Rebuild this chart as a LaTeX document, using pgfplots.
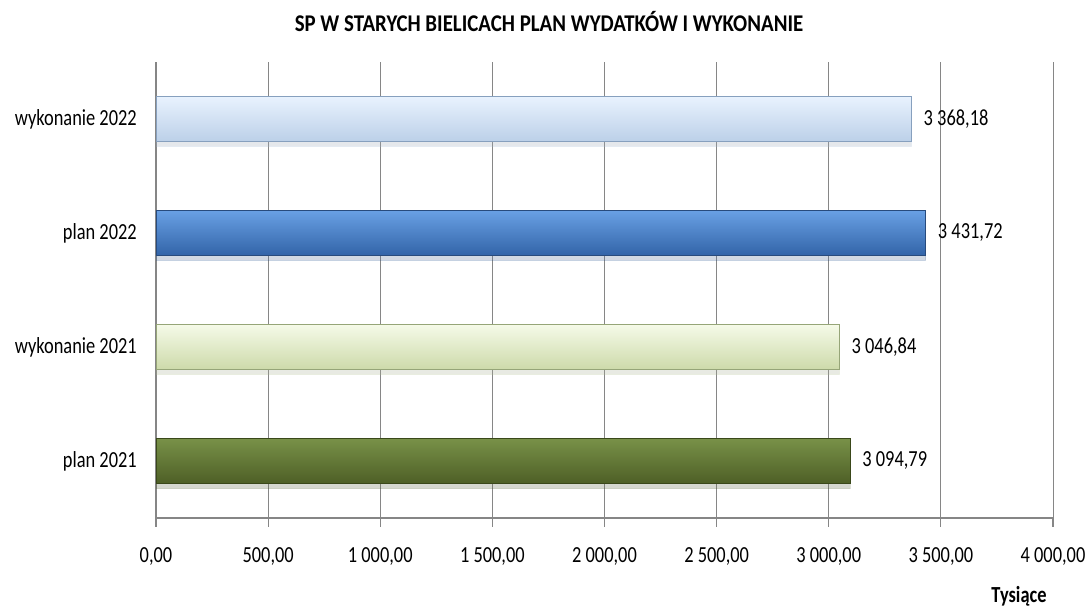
\documentclass[border=0pt]{standalone}
\usepackage{pgfplots}
\pgfplotsset{compat=1.18}
\usepackage{fontspec}
\setmainfont{Carlito}[FakeStretch=0.8]
\newfontfamily\titlefont{Carlito}[FakeStretch=0.87]
\usetikzlibrary{shadows}
\definecolor{axisgray}{HTML}{868686}
\begin{document}
\begin{tikzpicture}[x=1pt,y=1pt]
\useasboundingbox (0,0) rectangle (1089,609);
\node[anchor=base, font=\titlefont\fontsize{24}{28}\selectfont\bfseries] at (549,577.5) {SP W STARYCH BIELICACH PLAN WYDATKÓW I WYKONANIE};
\node[anchor=base, font=\fontsize{23}{27}\selectfont\bfseries] at (1019,6) {Tysiące};
\begin{axis}[
  at={(156pt,91pt)}, anchor=south west,
  scale only axis, width=897pt, height=456pt,
  xmin=0, xmax=4000, ymin=-0.5, ymax=3.5,
  axis x line*=bottom, axis y line*=left,
  axis line style={draw=axisgray, line width=1.2pt, -},
  xtick={0,500,1000,1500,2000,2500,3000,3500,4000},
  xticklabels={{0,00},{500,00},{1 000,00},{1 500,00},{2 000,00},{2 500,00},{3 000,00},{3 500,00},{4 000,00}},
  ytick={0,1,2,3},
  yticklabels={plan 2021,wykonanie 2021,plan 2022,wykonanie 2022},
  extra y ticks={-0.5,0.5,1.5,2.5,3.5},
  extra y tick labels={},
  extra y tick style={major tick length=6pt, tick style={draw=axisgray, line width=1.2pt}},
  tick align=outside,
  major tick length=9pt,
  xtick style={draw=axisgray, line width=1.2pt},
  ytick style={draw=none},
  xmajorgrids,
  major grid style={draw=axisgray, line width=1pt},
  ticklabel style={font=\fontsize{23}{27}\selectfont, text=black, inner sep=0pt},
  xticklabel style={yshift=-20pt},
  yticklabel style={xshift=-10pt},
  xbar, bar width=45pt, bar shift=0pt,
  point meta=explicit symbolic,
  nodes near coords,
  nodes near coords style={font=\fontsize{23}{27}\selectfont, text=black, anchor=west, inner sep=0pt, xshift=12pt},
  clip=false,
]
\addplot[draw={rgb,255:red,58;green,72;blue,26}, top color={rgb,255:red,120;green,145;blue,72}, middle color={rgb,255:red,91;green,110;blue,47}, bottom color={rgb,255:red,78;green,95;blue,38}, line width=0.8pt,
  drop shadow={shadow xshift=0pt, shadow yshift=-5pt, opacity=0.15}]
  coordinates {(3094.79,0) [{3 094,79}]};
\addplot[draw={rgb,255:red,150;green,165;blue,120}, top color={rgb,255:red,245;green,250;blue,232}, middle color={rgb,255:red,226;green,237;blue,198}, bottom color={rgb,255:red,205;green,218;blue,170}, line width=0.8pt,
  drop shadow={shadow xshift=0pt, shadow yshift=-5pt, opacity=0.15}]
  coordinates {(3046.84,1) [{3 046,84}]};
\addplot[draw={rgb,255:red,40;green,75;blue,125}, top color={rgb,255:red,105;green,160;blue,228}, middle color={rgb,255:red,60;green,122;blue,200}, bottom color={rgb,255:red,50;green,100;blue,168}, line width=0.8pt,
  drop shadow={shadow xshift=0pt, shadow yshift=-5pt, opacity=0.15}]
  coordinates {(3431.72,2) [{3 431,72}]};
\addplot[draw={rgb,255:red,135;green,160;blue,190}, top color={rgb,255:red,232;green,242;blue,254}, middle color={rgb,255:red,211;green,229;blue,250}, bottom color={rgb,255:red,188;green,208;blue,232}, line width=0.8pt,
  drop shadow={shadow xshift=0pt, shadow yshift=-5pt, opacity=0.15}]
  coordinates {(3368.18,3) [{3 368,18}]};
\end{axis}
\end{tikzpicture}
\end{document}
